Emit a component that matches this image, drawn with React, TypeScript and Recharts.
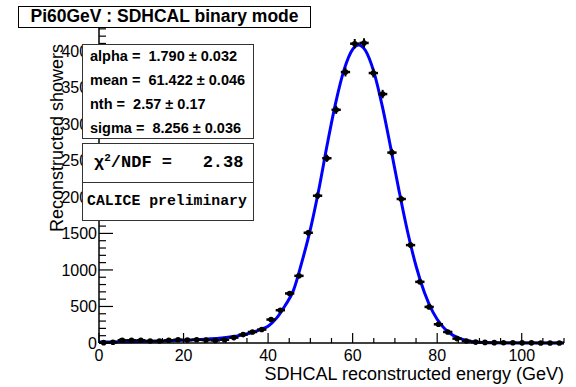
import { ComposedChart, Line, Scatter, XAxis, YAxis, ErrorBar } from 'recharts'

// histogram bins (GeV), bin half width 1.1
const binCenters = [
  1.1, 3.3, 5.5, 7.7, 9.9, 12.1, 14.3, 16.5, 18.7, 20.9,
  23.1, 25.3, 27.5, 29.7, 31.9, 34.1, 36.3, 38.5, 40.7, 42.9,
  45.1, 47.3, 49.5, 51.7, 53.9, 56.1, 58.3, 60.5, 62.7, 64.9,
  67.1, 69.3, 71.5, 73.7, 75.9, 78.1, 80.3, 82.5, 84.7, 86.9,
  89.1, 91.3, 93.5, 95.7, 97.9, 100.1, 102.3, 104.5, 106.7, 108.9,
]
const showers = [
  5, 10, 37, 37, 37, 27, 27, 37, 45, 40,
  45, 40, 35, 45, 74, 115, 151, 184, 321, 449,
  678, 919, 1509, 2016, 2529, 3192, 3709, 4097, 4107, 3695,
  3407, 2606, 1971, 1340, 837, 494, 256, 151, 60, 27,
  12, 8, 5, 4, 3, 2, 2, 1, 1, 1,
]
const showerErr = [
  2, 3, 6, 6, 6, 5, 5, 6, 7, 6,
  7, 6, 6, 7, 9, 11, 12, 14, 18, 21,
  26, 30, 39, 45, 50, 56, 61, 64, 64, 61,
  58, 51, 44, 37, 29, 22, 16, 12, 8, 5,
  3, 3, 2, 2, 2, 1, 1, 1, 1, 1,
]
const BIN_HALF = 1.1

// fitted crystal-ball curve
const fitE = [0, 5, 10, 15, 20, 25, 30, 33, 36, 38, 40, 42, 44, 46, 48, 50, 52, 54, 56, 58, 60, 61.4, 63, 65, 67, 69, 71, 73, 75, 77, 79, 81, 83, 85, 87, 89, 91, 93, 96, 100, 105, 110]
const fitN = [13, 17, 21, 27, 36, 50, 75, 100, 140, 180, 230, 340, 510, 720, 1110, 1555, 2100, 2720, 3290, 3745, 4020, 4080, 4007, 3714, 3245, 2674, 2078, 1523, 1054, 687, 422, 245, 134, 69, 34, 15, 6, 2, 0, 0, 0, 0]

const xLabels = [0, 20, 40, 60, 80, 100]
const yLabels = [0, 500, 1000, 1500, 2000, 2500, 3000, 3500, 4000]
const xTicks = Array.from({ length: 23 }, (_, i) => i * 5)
const yTicks = Array.from({ length: 44 }, (_, i) => i * 100)

const statsLines = [
  'alpha =  1.790 ± 0.032',
  'mean =  61.422 ± 0.046',
  'nth =  2.57 ± 0.17',
  'sigma =  8.256 ± 0.036',
]

const points = binCenters.map((e, i) => ({ e, n: showers[i], ex: BIN_HALF, ey: showerErr[i] }))
const curve = fitE.map((e, i) => ({ e, n: fitN[i] }))

const FONT = '"Liberation Sans", Arial, Helvetica, sans-serif'
const MONO = '"Liberation Mono", "Courier New", monospace'

const BottomTick = (p: any) => {
  const v = p.payload.value
  const major = xLabels.includes(v)
  return (
    <g>
      <line x1={p.x} x2={p.x} y1={p.y} y2={p.y - (major ? 10 : 5)} stroke="#000" strokeWidth={1.2} />
      {major && (
        <text x={p.x} y={p.y + 18} textAnchor="middle" fontSize={16} fontFamily={FONT} fill="#000">{v}</text>
      )}
    </g>
  )
}

const TopTick = (p: any) => {
  const major = xLabels.includes(p.payload.value)
  return <line x1={p.x} x2={p.x} y1={p.y} y2={p.y + (major ? 10 : 5)} stroke="#000" strokeWidth={1.2} />
}

const LeftTick = (p: any) => {
  const v = p.payload.value
  const major = yLabels.includes(v)
  return (
    <g>
      <line x1={p.x} x2={p.x + (major ? 14 : 7)} y1={p.y} y2={p.y} stroke="#000" strokeWidth={1.2} />
      {major && (
        <text x={p.x - 2} y={p.y + 6} textAnchor="end" fontSize={16} fontFamily={FONT} fill="#000">{v}</text>
      )}
    </g>
  )
}

const RightTick = (p: any) => {
  const major = yLabels.includes(p.payload.value)
  return <line x1={p.x} x2={p.x - (major ? 14 : 7)} y1={p.y} y2={p.y} stroke="#000" strokeWidth={1.2} />
}

const Dot = (p: any) => <circle cx={p.cx} cy={p.cy} r={2.8} fill="#000" />

const boxStyle: React.CSSProperties = {
  position: 'absolute',
  left: 82,
  width: 172,
  background: '#fff',
  border: '1.5px solid #333',
  boxSizing: 'border-box',
}

export default function App() {
  return (
    <div style={{ position: 'absolute', left: 0, top: 0, width: 576, height: 387, background: '#fff', fontFamily: FONT }}>
      <ComposedChart width={576} height={387} data={points} margin={{ top: 23, right: 12, bottom: 0, left: 0 }}>
        <XAxis
          dataKey="e"
          type="number"
          domain={[0, 110]}
          ticks={xTicks}
          interval={0}
          height={44}
          tickSize={0}
          tickMargin={0}
          tickLine={false}
          axisLine={{ stroke: '#000', strokeWidth: 1.5 }}
          tick={BottomTick}
          label={{
            content: (lp: any) => (
              <text x={lp.viewBox.x + lp.viewBox.width} y={lp.viewBox.y + 37} textAnchor="end" fontSize={18} fontFamily={FONT} fill="#000">
                SDHCAL reconstructed energy (GeV)
              </text>
            ),
          }}
        />
        <XAxis
          xAxisId="top"
          orientation="top"
          dataKey="e"
          type="number"
          domain={[0, 110]}
          ticks={xTicks}
          interval={0}
          height={0}
          tickSize={0}
          tickMargin={0}
          tickLine={false}
          axisLine={{ stroke: '#000', strokeWidth: 1.5 }}
          tick={TopTick}
        />
        <YAxis
          type="number"
          domain={[0, 4380]}
          ticks={yTicks}
          interval={0}
          width={99}
          tickSize={0}
          tickMargin={0}
          tickLine={false}
          axisLine={{ stroke: '#000', strokeWidth: 1.5 }}
          tick={LeftTick}
          label={{
            content: (lp: any) => (
              <text
                x={63}
                y={lp.viewBox.y + 21}
                transform={`rotate(-90 63 ${lp.viewBox.y + 21})`}
                textAnchor="end"
                fontSize={18}
                fontFamily={FONT}
                fill="#000"
              >
                Reconstructed showers
              </text>
            ),
          }}
        />
        <YAxis
          yAxisId="right"
          orientation="right"
          type="number"
          domain={[0, 4380]}
          ticks={yTicks}
          interval={0}
          width={0}
          tickSize={0}
          tickMargin={0}
          tickLine={false}
          axisLine={{ stroke: '#000', strokeWidth: 1.5 }}
          tick={RightTick}
        />
        <Line data={curve} dataKey="n" type="monotone" stroke="#0000ff" strokeWidth={3} dot={false} isAnimationActive={false} />
        <Scatter data={points} dataKey="n" shape={Dot} isAnimationActive={false}>
          <ErrorBar dataKey="ex" direction="x" width={0} stroke="#000" strokeWidth={2.5} />
          <ErrorBar dataKey="ey" direction="y" width={0} stroke="#000" strokeWidth={2} />
        </Scatter>
      </ComposedChart>

      <div
        style={{
          position: 'absolute', left: 18, top: 6, width: 293, height: 22, boxSizing: 'border-box',
          border: '1.5px solid #000', background: '#fff', fontWeight: 'bold', fontSize: 17.5,
          lineHeight: '19px', textAlign: 'center', whiteSpace: 'pre',
        }}
      >
        Pi60GeV : SDHCAL binary mode
      </div>

      <div style={{ ...boxStyle, top: 44, height: 95 }}>
        {statsLines.map((s, i) => (
          <div key={s} style={{ position: 'absolute', left: 7, top: 2 + i * 24, fontSize: 14.5, fontWeight: 'bold', whiteSpace: 'pre', lineHeight: '18px' }}>
            {s}
          </div>
        ))}
      </div>

      <div style={{ ...boxStyle, top: 143, height: 41 }}>
        <div style={{ position: 'absolute', left: 11, top: 9, fontFamily: MONO, fontWeight: 'bold', fontSize: 17, whiteSpace: 'pre', lineHeight: '20px' }}>
          χ<sup style={{ fontSize: 11, verticalAlign: 6, lineHeight: 0 }}>2</sup>/NDF =   2.38
        </div>
      </div>

      <div style={{ ...boxStyle, top: 182, height: 39 }}>
        <div style={{ position: 'absolute', left: 4, top: 9, fontFamily: MONO, fontWeight: 'bold', fontSize: 14.8, whiteSpace: 'pre', lineHeight: '18px' }}>
          CALICE preliminary
        </div>
      </div>
    </div>
  )
}
